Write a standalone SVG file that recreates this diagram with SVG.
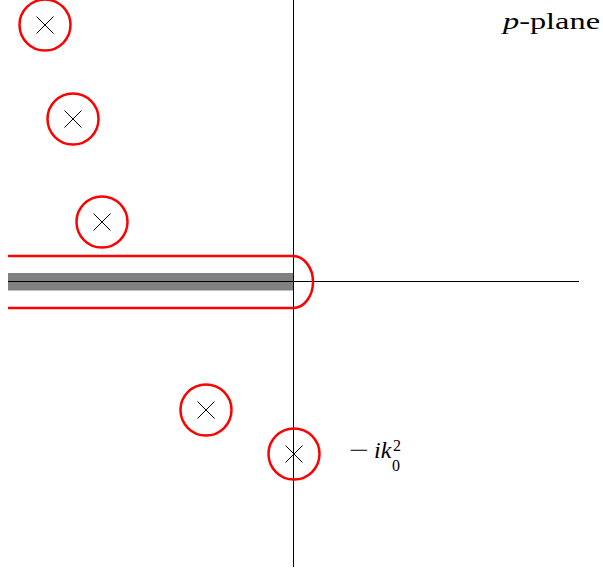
<svg xmlns="http://www.w3.org/2000/svg" width="603" height="573" viewBox="0 0 603 573">
<style>
.axis{stroke:#000;stroke-width:1;fill:none}
.pole circle{fill:none;stroke:#f00;stroke-width:2.5}
.pole path{stroke:#000;stroke-width:1;fill:none}
.lbl{font-family:"Liberation Serif","Times New Roman",serif;font-size:24px;fill:#000}
.sm{font-family:"Liberation Serif","Times New Roman",serif;font-size:16px;fill:#000}
</style>
<rect width="603" height="573" fill="#fff"/>
<g id="cut">
<rect x="8" y="273" width="285" height="17.5" fill="#808080"/>
</g>
<g id="axes">
<line class="axis" x1="293.5" y1="0" x2="293.5" y2="567"/>
<line class="axis" x1="8" y1="281.5" x2="579" y2="281.5"/>
</g>
<g id="contour">
<path d="M8,256 H293 A20,26 0 0 1 293,308 H8" fill="none" stroke="#f00" stroke-width="2.5"/>
</g>
<g id="pole1" class="pole"><circle cx="45" cy="25" r="25.5"/><path d="M36.5,16.5 L53.5,33.5 M53.5,16.5 L36.5,33.5"/></g>
<g id="pole2" class="pole"><circle cx="73" cy="119" r="25.5"/><path d="M64.5,110.5 L81.5,127.5 M81.5,110.5 L64.5,127.5"/></g>
<g id="pole3" class="pole"><circle cx="102" cy="222" r="25.5"/><path d="M93.5,213.5 L110.5,230.5 M110.5,213.5 L93.5,230.5"/></g>
<g id="pole4" class="pole"><circle cx="206" cy="410" r="25.5"/><path d="M197.5,401.5 L214.5,418.5 M214.5,401.5 L197.5,418.5"/></g>
<g id="pole5" class="pole"><circle cx="294" cy="454" r="25.5"/><path d="M285.5,445.5 L302.5,462.5 M302.5,445.5 L285.5,462.5"/></g>
<g id="labels">
<text class="lbl" x="503" y="29" textLength="97" lengthAdjust="spacingAndGlyphs"><tspan font-style="italic">p</tspan>-plane</text>
<text class="lbl" x="349" y="458" textLength="20" lengthAdjust="spacingAndGlyphs">−</text>
<text class="lbl" x="374" y="458" font-style="italic">ik</text>
<text class="sm" x="392" y="471">0</text>
<text class="sm" x="393" y="451">2</text>
</g>
</svg>
